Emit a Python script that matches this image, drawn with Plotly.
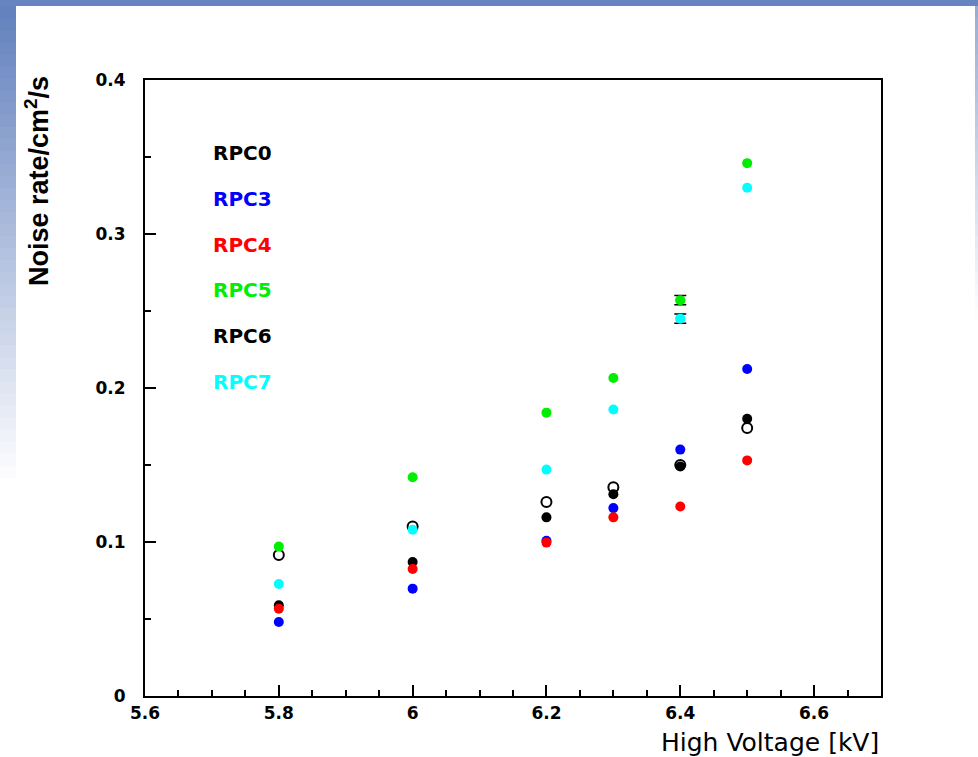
import plotly.graph_objects as go

# ---------------- data ----------------
hv = [5.8, 6.0, 6.2, 6.3, 6.4, 6.5]

rpc0 = [0.0916, 0.110, 0.126, 0.1355, 0.150, 0.174]   # open black
rpc3 = [0.048, 0.0697, 0.1008, 0.122, 0.160, 0.2123]  # blue
rpc4 = [0.0567, 0.0825, 0.0996, 0.116, 0.123, 0.153]  # red
rpc5 = [0.097, 0.142, 0.184, 0.2065, 0.257, 0.346]    # green
rpc6 = [0.0589, 0.087, 0.116, 0.131, 0.149, 0.180]   # filled black
rpc7 = [0.0727, 0.108, 0.147, 0.186, 0.245, 0.330]    # cyan

err5 = [None, None, None, None, 0.003, None]
err7 = [None, None, None, None, 0.003, None]

names = ["RPC0", "RPC3", "RPC4", "RPC5", "RPC6", "RPC7"]
colors = ["#000000", "#0000ff", "#ff0000", "#00ee00", "#000000", "#00ffff"]

# ---------------- figure ----------------
W, H = 978, 757
L, R, T, B = 145, 97, 80, 61
fig = go.Figure()

def add(y, name, color, symbol="circle", err=None):
    fig.add_trace(go.Scatter(
        x=hv, y=y, mode="markers", name=name, showlegend=False,
        marker=dict(symbol=symbol, size=10, color=color,
                    line=dict(width=2 if "open" in symbol else 0, color=color))))
    if err is not None:
        idx = [i for i, e in enumerate(err) if e is not None]
        fig.add_trace(go.Scatter(
            x=[hv[i] for i in idx], y=[y[i] for i in idx], mode="markers",
            name=name, showlegend=False,
            marker=dict(symbol=symbol, size=10, color=color, line=dict(width=0)),
            error_y=dict(type="data", array=[err[i] for i in idx], visible=True,
                         color="black", thickness=1.5, width=6)))

add(rpc0, "RPC0", "#000000", "circle-open")
add(rpc6, "RPC6", "#000000")
add(rpc3, "RPC3", "#0000ff")
add(rpc4, "RPC4", "#ff0000")
add(rpc5, "RPC5", "#00ee00", err=err5)
add(rpc7, "RPC7", "#00ffff", err=err7)

def px2x(px):
    return (px - L) / (W - L - R)

def px2y(py):
    return (H - B - py) / (H - T - B)

# legend-like labels
for i, (n, c) in enumerate(zip(names, colors)):
    py = 153 + i * 45.8
    fig.add_annotation(x=px2x(211), y=px2y(py),
                       xref="paper", yref="paper", xanchor="left", yanchor="middle",
                       text=n, showarrow=False,
                       font=dict(family="DejaVu Sans", size=20, color=c, weight="bold"))

# axis titles
fig.add_annotation(x=px2x(881), xref="paper", xanchor="right",
                   y=px2y(742), yref="paper", yanchor="middle",
                   text="High Voltage [kV]", showarrow=False,
                   font=dict(family="DejaVu Sans", size=25, color="black"))
fig.add_annotation(x=px2x(37), xref="paper", xanchor="center",
                   y=px2y(74), yref="paper", yanchor="top",
                   text="Noise rate/cm<sup>2</sup>/s", textangle=-90, showarrow=False,
                   font=dict(family="Liberation Sans", size=27, color="black",
                             weight="bold"))

# slide-like gradient strips in the background
top_c = (0x63, 0x82, 0xbe)
fig.add_shape(type="rect", xref="paper", yref="paper", layer="below",
              x0=px2x(0), x1=px2x(W), y0=px2y(0), y1=px2y(6),
              fillcolor="rgb(%d,%d,%d)" % (0x66, 0x84, 0xbf), line_width=0)
n = 40
for k in range(n):
    py0 = 6 + k * (490 - 6) / n
    py1 = 6 + (k + 1) * (490 - 6) / n + 1.5
    f = k / (n - 1)
    col = tuple(int(c + (255 - c) * f) for c in top_c)
    fig.add_shape(type="rect", xref="paper", yref="paper", layer="below",
                  x0=px2x(0), x1=px2x(16), y0=px2y(py0), y1=px2y(py1),
                  fillcolor="rgb(%d,%d,%d)" % col, line_width=0)
    col2 = tuple(int(c + (255 - c) * min(1, 0.35 + f)) for c in top_c)
    fig.add_shape(type="rect", xref="paper", yref="paper", layer="below",
                  x0=px2x(975), x1=px2x(W), y0=px2y(py0), y1=px2y(py1),
                  fillcolor="rgb(%d,%d,%d)" % col2, line_width=0)

tick_font = dict(family="DejaVu Sans", size=17, color="black", weight="bold")
fig.update_layout(
    width=W, height=H,
    margin=dict(l=L, r=R, t=T, b=B, pad=0),
    paper_bgcolor="white", plot_bgcolor="white",
    xaxis=dict(range=[5.6, 6.7], tickmode="array",
               tickvals=[5.6, 5.8, 6.0, 6.2, 6.4, 6.6],
               ticktext=["5.6", "5.8", "6", "6.2", "6.4", "6.6"],
               ticks="inside", ticklen=11, tickwidth=1.5, tickcolor="black",
               minor=dict(dtick=0.05, tick0=5.6, ticks="inside", ticklen=6,
                          tickwidth=1.5, tickcolor="black", showgrid=False),
               showline=True, linecolor="black", linewidth=2, mirror=True,
               showgrid=False, zeroline=False, tickfont=tick_font,
               ticklabelstandoff=1),
    yaxis=dict(range=[0, 0.4], tickmode="array",
               tickvals=[0, 0.1, 0.2, 0.3, 0.4],
               ticktext=["0", "0.1", "0.2", "0.3", "0.4"],
               ticks="inside", ticklen=11, tickwidth=1.5, tickcolor="black",
               minor=dict(dtick=0.05, tick0=0, ticks="inside", ticklen=6,
                          tickwidth=1.5, tickcolor="black", showgrid=False),
               showline=True, linecolor="black", linewidth=2, mirror=True,
               showgrid=False, zeroline=False, tickfont=tick_font,
               ticklabelstandoff=14),
)

fig.write_html("out.html", config={"displayModeBar": False},
               post_script="document.body.style.margin='0';document.body.style.overflow='hidden';")
